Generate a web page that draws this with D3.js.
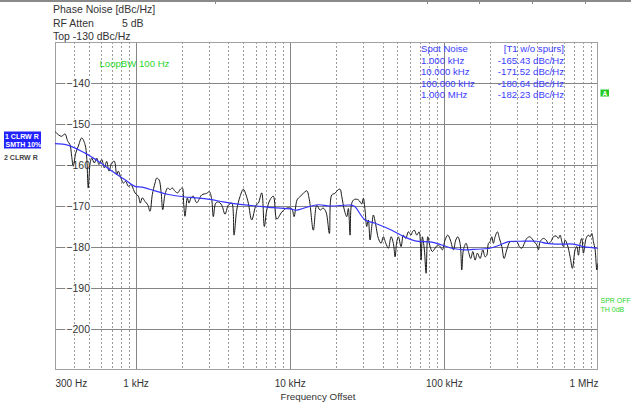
<!DOCTYPE html>
<html><head><meta charset="utf-8">
<script src="https://cdn.jsdelivr.net/npm/d3@7"></script>
<style>
body{margin:0;background:#fff}
svg{display:block}
text{font-family:"Liberation Sans",Arial,sans-serif}
</style>
</head><body><svg id="c" width="631" height="405"></svg>
<script>
// ---- data ----
const noiseFreq=[300,315,332,348,363,375,385,394,409,425,447,470,482,493,506,519,540,559,579,603,627,649,672,700,728,754,772,804,832,863,897,934,991,
1042,1073,1105,1151,1198,1240,1284,1337,1371,1419,1462,1500,1552,1616,1672,1731,1802,1876,1942,2010,2053,2093,2166,2222,2289,2369,2493,2686,2894,3009,3119,3194,3311,3442,3621,3804,3996,4204,4351,4530,4760,5000,5206,5388,5670,6045,6256,6582,6843,7093,7451,7829,8237,8876,9565,
10310,10670,11160,11670,12260,12900,13410,14230,14980,15730,16450,17210,18080,18740,19690,20500,21210,21760,22620,23440,24010,24630,25260,26260,27870,29330,30040,30810,31610,32370,33200,34060,34880,36150,37590,39140,40510,42000,43650,45440,47030,48250,49490,50690,52770,54610,56600,58850,61280,62480,64370,66730,69060,71150,72540,74740,76660,78640,81390,84230,87700,91310,94520,97820,
101800,106000,110200,115300,119500,123100,127400,130700,133900,139400,144300,149600,154100,159500,165000,171900,178900,185200,190000,194600,199500,204600,209600,215000,222500,229300,237700,245900,256000,269000,282600,297400,309100,320400,333100,345300,358900,372000,385000,400900,410600,421100,442400,460600,476800,494200,513700,534800,553500,567800,582400,596500,611900,633300,659400,682400,710400,728700,746400,765600,785200,804200,837300,866600,889000,911800,933900,957900,982600,997000];
const noiseLevel=[-151.8,-152.6,-153.0,-152.4,-154.2,-155.0,-157.9,-160.3,-157.1,-155.4,
-153.4,-155.0,-158.3,-165.6,-159.9,-158.3,-159.5,-158.3,-159.9,-158.7,
-160.7,-159.1,-161.5,-159.5,-159.1,-162.4,-161.5,-163.2,-164.4,-164.0,
-165.2,-164.8,-166.8,-167.6,-169.3,-168.0,-168.9,-169.7,-171.3,-167.2,
-164.4,-163.2,-163.6,-166.4,-170.9,-167.2,-165.6,-166.0,-165.6,-166.4,
-166.8,-166.0,-165.6,-169.7,-172.5,-168.0,-169.3,-168.0,-167.6,-169.2,
-167.3,-166.9,-166.5,-168.5,-172.6,-169.3,-169.0,-169.8,-172.0,-169.8,
-169.3,-177.1,-171.0,-167.7,-165.9,-167.3,-169.3,-173.4,-169.8,-169.3,
-166.8,-175.0,-171.0,-168.5,-167.6,-173.2,-171.5,-170.5,-170.7,-172.6,
-168.5,-167.7,-166.9,-166.3,-168.5,-175.9,-169.8,-171.0,-170.5,-171.5,
-176.7,-167.3,-166.9,-166.1,-165.9,-167.7,-171.0,-172.6,-170.6,-177.1,
-169.3,-168.4,-168.5,-169.5,-168.1,-171.0,-175.0,-173.4,-178.3,-175.0,
-172.2,-174.6,-177.9,-179.1,-177.5,-179.1,-180.3,-177.5,-179.1,-182.4,
-178.7,-177.5,-179.9,-177.1,-177.9,-176.3,-177.1,-176.3,-175.9,-177.1,
-176.3,-183.2,-177.5,-180.7,-186.4,-177.5,-179.9,-181.1,-180.3,-179.5,
-179.9,-180.7,-178.3,-177.1,-178.3,-180.7,-178.3,-177.5,-179.1,-185.6,
-180.7,-179.1,-181.1,-182.8,-181.1,-183.2,-181.5,-182.8,-180.7,-182.4,
-182.0,-179.1,-178.7,-177.5,-179.1,-177.5,-176.3,-177.9,-179.9,-182.8,
-180.7,-178.7,-178.7,-178.7,-179.9,-180.3,-179.1,-177.9,-177.5,-177.9,
-178.7,-179.5,-180.7,-178.7,-177.9,-178.3,-179.1,-178.7,-177.5,-177.3,
-177.9,-177.1,-178.7,-179.9,-178.3,-179.5,-182.4,-185.2,-180.7,-179.9,
-182.0,-179.1,-177.9,-181.5,-177.9,-177.1,-177.5,-176.7,-178.7,-180.7,
-185.6,-184.0];
const smoothFreq=[300,366,470,573,735,854,990,1096,1337,1631,2093,2430,3041,3709,4760,6109,7829,10050,11110,12900,15330,18270,25260,26540,30810,35790,45920,56020,65060,83500,96940,112600,137300,155400,199500,231700,262300,312300,400900,465500,567800,692600,804200,1000000];
const smoothLevel=[-154.8,-155.2,-157.1,-159.1,-162.0,-163.6,-165.2,-165.4,-166.3,-167.2,-167.8,-168.0,-168.4,-169.0,-169.6,-170.0,-170.4,-170.7,-171.0,-170.3,-169.7,-170.0,-169.8,-170.2,-173.4,-174.2,-175.9,-177.6,-178.5,-178.8,-179.5,-180.3,-180.7,-180.6,-180.3,-179.5,-178.7,-178.6,-178.6,-179.1,-179.3,-179.3,-179.9,-180.3];
const xTicks=[300,1000,10000,100000,1000000];
const xTickLabels=["300 Hz","1 kHz","10 kHz","100 kHz","1 MHz"];
const yTicks=[-140,-150,-160,-170,-180,-190,-200];
const spotFreqs=["1.000 kHz","10.000 kHz","100.000 kHz","1.000 MHz"];
const spotLevels=[-165.43,-171.52,-180.64,-182.23];
const headerLines=["Phase Noise [dBc/Hz]","RF Atten","Top -130 dBc/Hz"];

// ---- layout ----
const L=55,R=598,T=42,B=370;
const svg=d3.select("#c");
const x=d3.scaleLog().domain([300,1e6]).range([L,R]);
const y=d3.scaleLinear().domain([-210,-130]).range([B,T]);
const px=v=>Math.round(v)+0.5;

// top bar line
svg.append("line").attr("x1",0).attr("x2",631).attr("y1",1).attr("y2",1).attr("stroke","#8a8a8a").attr("stroke-width",2);
[215,427,479,532,585].forEach(t=>svg.append("line").attr("x1",t+0.5).attr("x2",t+0.5).attr("y1",0).attr("y2",4).attr("stroke","#8a8a8a"));

// header
const hdr=svg.append("g").attr("fill","#333").style("font-size","10.5px");
hdr.append("text").attr("x",53).attr("y",12.5).text(headerLines[0]);
hdr.append("text").attr("x",53).attr("y",27).text(headerLines[1]);
hdr.append("text").attr("x",122).attr("y",27).text("5 dB");
hdr.append("text").attr("x",53).attr("y",39.5).text(headerLines[2]);

// minor grid
const minor=[];
[100,1000,10000,100000].forEach(d=>{for(let m=2;m<=9;m++){const f=d*m;if(f>300&&f<1e6&&!xTicks.includes(f))minor.push(f);}});
const grid=svg.append("g");
grid.selectAll(".mn").data(minor).enter().append("line")
 .attr("x1",d=>px(x(d))).attr("x2",d=>px(x(d))).attr("y1",T).attr("y2",B)
 .attr("stroke","#9c9c9c").attr("stroke-dasharray","2,2");
grid.selectAll(".mj").data(xTicks.slice(1,-1)).enter().append("line")
 .attr("x1",d=>px(x(d))).attr("x2",d=>px(x(d))).attr("y1",T).attr("y2",B)
 .attr("stroke","#858585");
grid.selectAll(".hy").data(yTicks).enter().append("line")
 .attr("x1",L).attr("x2",R).attr("y1",d=>px(y(d))).attr("y2",d=>px(y(d)))
 .attr("stroke","#858585");
svg.append("rect").attr("x",L+0.5).attr("y",T+0.5).attr("width",R-L-1).attr("height",B-T-1)
 .attr("fill","none").attr("stroke","#a0a0a0");

// y labels (inside plot, white background)
const yAx=svg.append("g").attr("transform",`translate(${L+35},0)`)
 .call(d3.axisLeft(y).tickValues(yTicks).tickSize(0).tickPadding(0));
yAx.select(".domain").remove();
yAx.selectAll("text").attr("fill","#333").style("font-size","10.5px").style("font-family","'Liberation Sans',Arial,sans-serif").attr("dy","0.36em");
yAx.selectAll(".tick").each(function(){
  const t=d3.select(this).select("text").node();const bb=t.getBBox();
  d3.select(this).insert("rect","text").attr("x",bb.x-1).attr("y",bb.y+1).attr("width",bb.width+2).attr("height",bb.height-2).attr("fill","#fff");
});

// x labels
const xAx=svg.append("g").attr("transform",`translate(0,${B})`)
 .call(d3.axisBottom(x).tickValues(xTicks).tickFormat((d,i)=>xTickLabels[i]).tickSize(0));
xAx.select(".domain").remove();
xAx.selectAll("text").attr("y",17).attr("dy",0).attr("fill","#333").style("font-size","10px").style("font-family","'Liberation Sans',Arial,sans-serif")
 .attr("text-anchor",(d,i)=>i===0?"start":(i===xTicks.length-1?"end":"middle"));
svg.append("text").attr("x",318).attr("y",400).attr("text-anchor","middle").attr("fill","#333").style("font-size","9.8px").text("Frequency Offset");

// traces
const clip=svg.append("clipPath").attr("id","pc").append("rect").attr("x",L).attr("y",T).attr("width",R-L).attr("height",B-T);
const noise=noiseFreq.map((f,i)=>({f,v:noiseLevel[i]}));
const smooth=smoothFreq.map((f,i)=>({f,v:smoothLevel[i]}));
const line=d3.line().x(d=>x(d.f)).y(d=>y(d.v)).curve(d3.curveCatmullRom.alpha(0.5));
svg.append("path").attr("clip-path","url(#pc)").attr("d",line(noise)).attr("fill","none").attr("stroke","#1a1a1a").attr("stroke-width",1);
svg.append("path").attr("clip-path","url(#pc)").attr("d",line(smooth)).attr("fill","none").attr("stroke","#3535ff").attr("stroke-width",1.2);

// green loop BW label
svg.append("text").attr("x",99.5).attr("y",66.5).attr("fill","#2bd62b").style("font-size","9.6px").text("LoopBW 100 Hz");

// spot noise table
const sp=svg.append("g").attr("fill","#3c3cff").style("font-size","9.6px");
sp.append("text").attr("x",421).attr("y",51.5).text("Spot Noise");
sp.append("text").attr("x",564).attr("y",51.5).attr("text-anchor","end").text("[T1 w/o spurs]");
sp.selectAll(".sf").data(spotFreqs).enter().append("text").attr("x",421).attr("y",(d,i)=>63.5+i*11.5).text(d=>d);
sp.selectAll(".sv").data(spotLevels).enter().append("text").attr("x",564).attr("y",(d,i)=>63.5+i*11.5).attr("text-anchor","end").text(d=>d.toFixed(2)+" dBc/Hz");

// left trace legend
svg.append("rect").attr("x",4).attr("y",131.5).attr("width",37).attr("height",17).attr("fill","#2222ff");
const lg=svg.append("g").style("font-size","7px").style("font-weight","bold");
lg.append("text").attr("x",5).attr("y",138.5).attr("fill","#fff").text("1 CLRW R");
lg.append("text").attr("x",5.5).attr("y",147).attr("fill","#fff").text("SMTH 10%");
lg.append("text").attr("x",4).attr("y",160).attr("fill","#444").text("2 CLRW R");

// right side markers
svg.append("rect").attr("x",600.5).attr("y",89.5).attr("width",8.5).attr("height",7).attr("fill","#22cc22");
svg.append("text").attr("x",604.8).attr("y",95.5).attr("text-anchor","middle").attr("fill","#fff").style("font-size","6.5px").style("font-weight","bold").text("A");
const rg=svg.append("g").attr("fill","#2bd62b").style("font-size","7px");
rg.append("text").attr("x",600.5).attr("y",303).text("SPR OFF");
rg.append("text").attr("x",600.5).attr("y",311.5).text("TH 0dB");
</script>
</body></html>
